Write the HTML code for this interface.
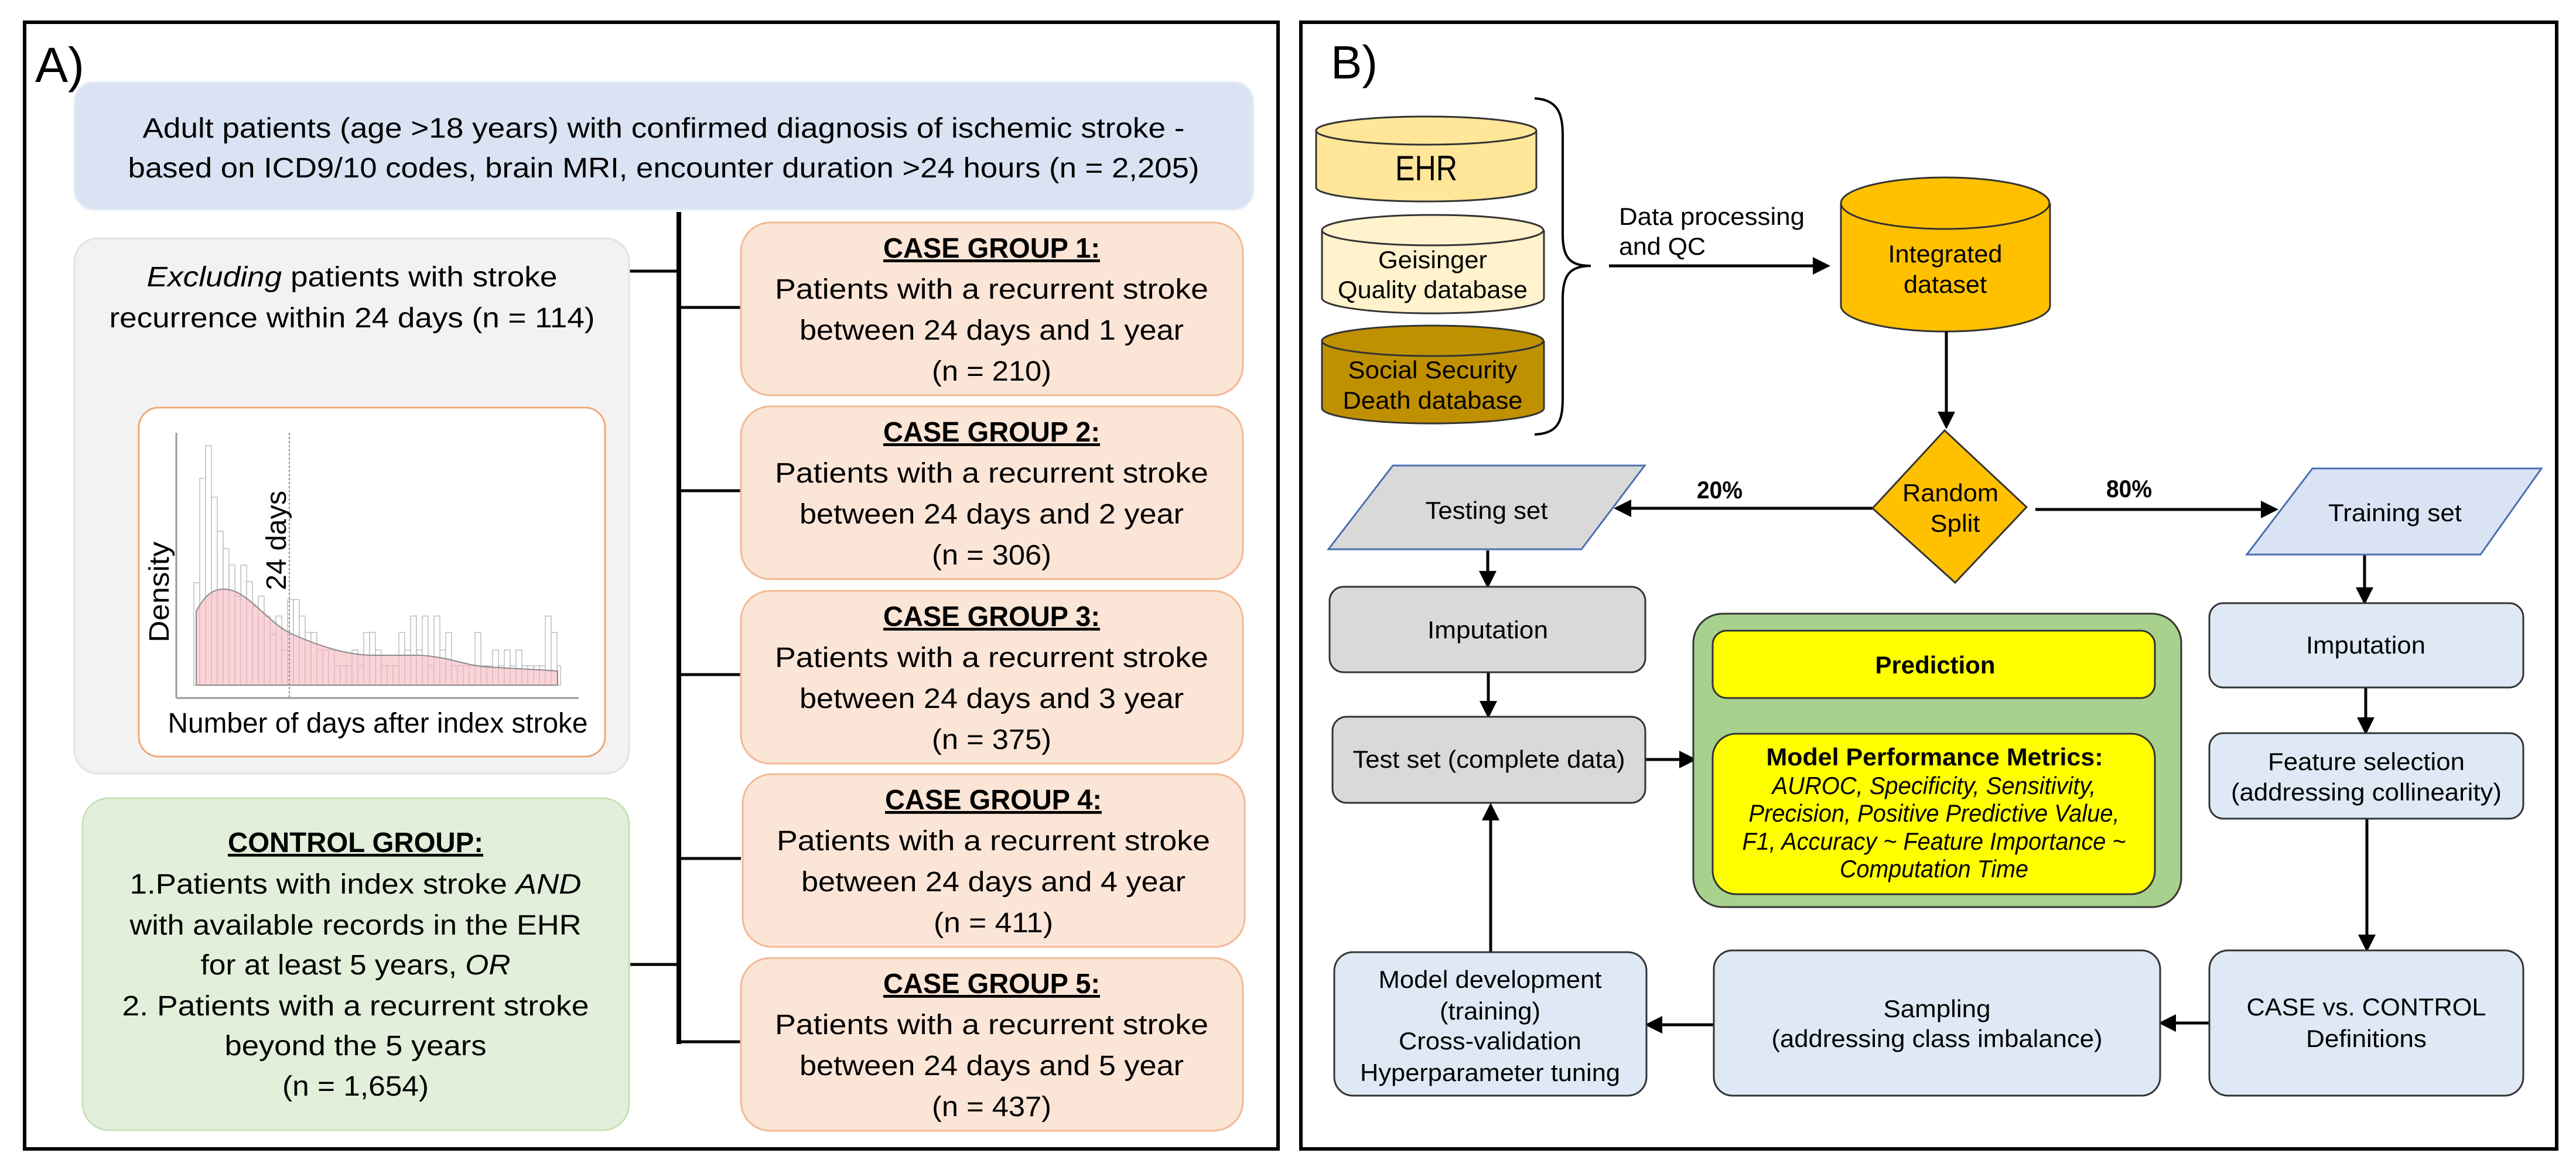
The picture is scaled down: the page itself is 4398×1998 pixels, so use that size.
<!DOCTYPE html>
<html><head><meta charset="utf-8"><style>
html,body{margin:0;padding:0;background:#fff}
svg{display:block}
.a{font-family:"Liberation Sans",sans-serif;fill:#000}
</style></head><body>
<svg width="4398" height="1998" viewBox="0 0 4398 1998" xmlns="http://www.w3.org/2000/svg">
<defs>
<marker id="ah" markerWidth="6" markerHeight="6" refX="5" refY="3" orient="auto" markerUnits="strokeWidth"><path d="M0,0 L6,3 L0,6 z" fill="#000"/></marker>
</defs>
<rect width="4398" height="1998" fill="#fff"/>
<!-- PANEL A -->
<rect x="42" y="38" width="2140" height="1924" fill="#fff" stroke="#000" stroke-width="6"/>
<text class="a" x="60" y="140" font-size="84">A)</text>
<rect x="127" y="140" width="2013" height="218" rx="34" fill="#dae3f3" stroke="#e6edf8" stroke-width="3"/>
<g class="a" font-size="48" text-anchor="middle">
<text x="1133" y="235" textLength="1779" lengthAdjust="spacingAndGlyphs">Adult patients (age &gt;18 years) with confirmed diagnosis of ischemic stroke -</text>
<text x="1133" y="303" textLength="1829" lengthAdjust="spacingAndGlyphs">based on ICD9/10 codes, brain MRI, encounter duration &gt;24 hours (n = 2,205)</text>
</g>
<!-- trunk -->
<line x1="1159" y1="362" x2="1159" y2="1783" stroke="#000" stroke-width="8"/>
<g stroke="#000" stroke-width="5">
<line x1="1069" y1="463" x2="1159" y2="463"/>
<line x1="1076" y1="1647" x2="1159" y2="1647"/>
<line x1="1159" y1="525" x2="1265" y2="525"/>
<line x1="1159" y1="838" x2="1265" y2="838"/>
<line x1="1159" y1="1152" x2="1265" y2="1152"/>
<line x1="1159" y1="1466" x2="1265" y2="1466"/>
<line x1="1159" y1="1779" x2="1265" y2="1779"/>
</g>
<!-- gray box -->
<rect x="127" y="407" width="947" height="914" rx="40" fill="#f2f2f2" stroke="#e3e3e3" stroke-width="3"/>
<g class="a" font-size="48" text-anchor="middle">
<text x="601" y="489" textLength="701" lengthAdjust="spacingAndGlyphs"><tspan font-style="italic">Excluding</tspan> patients with stroke</text>
<text x="601" y="559" textLength="829" lengthAdjust="spacingAndGlyphs">recurrence within 24 days (n = 114)</text>
</g>
<!-- chart -->
<rect x="237" y="696" width="796" height="596" rx="34" fill="#fff" stroke="#f0a878" stroke-width="3"/>
<g fill="#fff" stroke="#bdbdbd" stroke-width="1.5">
<rect x="331" y="995" width="10" height="175"/><rect x="341" y="817" width="10" height="353"/><rect x="351" y="761" width="10" height="409"/><rect x="361" y="849" width="10" height="321"/><rect x="371" y="907" width="10" height="263"/><rect x="381" y="937" width="10" height="233"/><rect x="391" y="965" width="10" height="205"/><rect x="401" y="1018" width="10" height="152"/><rect x="411" y="965" width="10" height="205"/><rect x="421" y="993" width="10" height="177"/><rect x="431" y="1036" width="10" height="134"/><rect x="441" y="1018" width="10" height="152"/><rect x="451" y="1052" width="10" height="118"/><rect x="461" y="1083" width="10" height="87"/><rect x="471" y="1052" width="10" height="118"/><rect x="481" y="1110" width="10" height="60"/><rect x="491" y="1024" width="10" height="146"/><rect x="501" y="1024" width="10" height="146"/><rect x="511" y="1052" width="10" height="118"/><rect x="521" y="1080" width="10" height="90"/><rect x="531" y="1080" width="10" height="90"/><rect x="541" y="1110" width="10" height="60"/><rect x="551" y="1110" width="10" height="60"/><rect x="561" y="1110" width="10" height="60"/><rect x="571" y="1137" width="10" height="33"/><rect x="581" y="1137" width="10" height="33"/><rect x="591" y="1137" width="10" height="33"/><rect x="601" y="1110" width="10" height="60"/><rect x="611" y="1137" width="10" height="33"/><rect x="621" y="1080" width="10" height="90"/><rect x="631" y="1080" width="10" height="90"/><rect x="641" y="1110" width="10" height="60"/><rect x="651" y="1137" width="10" height="33"/><rect x="661" y="1137" width="10" height="33"/><rect x="671" y="1137" width="10" height="33"/><rect x="681" y="1080" width="10" height="90"/><rect x="691" y="1110" width="10" height="60"/><rect x="701" y="1052" width="10" height="118"/><rect x="711" y="1110" width="10" height="60"/><rect x="721" y="1052" width="10" height="118"/><rect x="731" y="1137" width="10" height="33"/><rect x="741" y="1052" width="10" height="118"/><rect x="751" y="1110" width="10" height="60"/><rect x="761" y="1080" width="10" height="90"/><rect x="771" y="1137" width="10" height="33"/><rect x="781" y="1137" width="10" height="33"/><rect x="791" y="1137" width="10" height="33"/><rect x="801" y="1137" width="10" height="33"/><rect x="811" y="1080" width="10" height="90"/><rect x="821" y="1137" width="10" height="33"/><rect x="831" y="1137" width="10" height="33"/><rect x="841" y="1110" width="10" height="60"/><rect x="851" y="1137" width="10" height="33"/><rect x="861" y="1110" width="10" height="60"/><rect x="871" y="1137" width="10" height="33"/><rect x="881" y="1110" width="10" height="60"/><rect x="891" y="1137" width="10" height="33"/><rect x="901" y="1137" width="10" height="33"/><rect x="911" y="1137" width="10" height="33"/><rect x="921" y="1137" width="10" height="33"/><rect x="931" y="1052" width="10" height="118"/><rect x="941" y="1080" width="10" height="90"/><rect x="951" y="1137" width="6" height="33"/>
</g>
<path d="M335,1170 L335,1044 C350,1015 365,1006 382,1006 C420,1006 450,1055 491,1079 C520,1093 545,1102 570,1109 C600,1117 620,1119 638,1119 L716,1119 C760,1121 790,1134 821,1138 C870,1142 920,1143 952,1146 L952,1170 Z" fill="#f7b6bf" fill-opacity="0.6" stroke="#8a8a8a" stroke-width="2"/>
<line x1="301" y1="739" x2="301" y2="1192" stroke="#999" stroke-width="3"/>
<line x1="301" y1="1192" x2="988" y2="1192" stroke="#999" stroke-width="3"/>
<line x1="494" y1="739" x2="494" y2="1192" stroke="#8888bb" stroke-width="2" stroke-dasharray="4,3"/>
<g class="a" font-size="48">
<text transform="translate(488,923) rotate(-90)" text-anchor="middle" textLength="170" lengthAdjust="spacingAndGlyphs">24 days</text>
<text transform="translate(288,1011) rotate(-90)" text-anchor="middle" textLength="172" lengthAdjust="spacingAndGlyphs">Density</text>
<text x="645" y="1251" text-anchor="middle" textLength="717" lengthAdjust="spacingAndGlyphs">Number of days after index stroke</text>
</g>
<!-- control -->
<rect x="141" y="1363" width="933" height="567" rx="45" fill="#e2efda" stroke="#c9e0b8" stroke-width="3"/>
<g class="a" font-size="48" text-anchor="middle">
<text x="607" y="1455" font-weight="bold" text-decoration="underline" textLength="436" lengthAdjust="spacingAndGlyphs">CONTROL GROUP:</text>
<text x="607" y="1526" textLength="771" lengthAdjust="spacingAndGlyphs">1.Patients with index stroke <tspan font-style="italic">AND</tspan></text>
<text x="607" y="1596" textLength="771" lengthAdjust="spacingAndGlyphs">with available records in the EHR</text>
<text x="607" y="1664" textLength="529" lengthAdjust="spacingAndGlyphs">for at least 5 years, <tspan font-style="italic">OR</tspan></text>
<text x="607" y="1734" textLength="797" lengthAdjust="spacingAndGlyphs">2. Patients with a recurrent stroke</text>
<text x="607" y="1802" textLength="447" lengthAdjust="spacingAndGlyphs">beyond the 5 years</text>
<text x="607" y="1871" textLength="250" lengthAdjust="spacingAndGlyphs">(n = 1,654)</text>
</g>
<!-- case boxes -->
<g fill="#fbe5d6" stroke="#f4b894" stroke-width="3">
<rect x="1265" y="380" width="857" height="295" rx="50"/>
<rect x="1265" y="694" width="857" height="295" rx="50"/>
<rect x="1265" y="1009" width="857" height="295" rx="50"/>
<rect x="1268" y="1322" width="857" height="295" rx="50"/>
<rect x="1265" y="1636" width="857" height="295" rx="50"/>
</g>
<g class="a" font-size="48" text-anchor="middle">
<text x="1693" y="440" font-weight="bold" text-decoration="underline" textLength="370" lengthAdjust="spacingAndGlyphs">CASE GROUP 1:</text>
<text x="1693" y="510" textLength="740" lengthAdjust="spacingAndGlyphs">Patients with a recurrent stroke</text>
<text x="1693" y="580" textLength="656" lengthAdjust="spacingAndGlyphs">between 24 days and 1 year</text>
<text x="1693" y="650" textLength="204" lengthAdjust="spacingAndGlyphs">(n = 210)</text>
<text x="1693" y="754" font-weight="bold" text-decoration="underline" textLength="370" lengthAdjust="spacingAndGlyphs">CASE GROUP 2:</text>
<text x="1693" y="824" textLength="740" lengthAdjust="spacingAndGlyphs">Patients with a recurrent stroke</text>
<text x="1693" y="894" textLength="656" lengthAdjust="spacingAndGlyphs">between 24 days and 2 year</text>
<text x="1693" y="964" textLength="204" lengthAdjust="spacingAndGlyphs">(n = 306)</text>
<text x="1693" y="1069" font-weight="bold" text-decoration="underline" textLength="370" lengthAdjust="spacingAndGlyphs">CASE GROUP 3:</text>
<text x="1693" y="1139" textLength="740" lengthAdjust="spacingAndGlyphs">Patients with a recurrent stroke</text>
<text x="1693" y="1209" textLength="656" lengthAdjust="spacingAndGlyphs">between 24 days and 3 year</text>
<text x="1693" y="1279" textLength="204" lengthAdjust="spacingAndGlyphs">(n = 375)</text>
<text x="1696" y="1382" font-weight="bold" text-decoration="underline" textLength="370" lengthAdjust="spacingAndGlyphs">CASE GROUP 4:</text>
<text x="1696" y="1452" textLength="740" lengthAdjust="spacingAndGlyphs">Patients with a recurrent stroke</text>
<text x="1696" y="1522" textLength="656" lengthAdjust="spacingAndGlyphs">between 24 days and 4 year</text>
<text x="1696" y="1592" textLength="204" lengthAdjust="spacingAndGlyphs">(n = 411)</text>
<text x="1693" y="1696" font-weight="bold" text-decoration="underline" textLength="370" lengthAdjust="spacingAndGlyphs">CASE GROUP 5:</text>
<text x="1693" y="1766" textLength="740" lengthAdjust="spacingAndGlyphs">Patients with a recurrent stroke</text>
<text x="1693" y="1836" textLength="656" lengthAdjust="spacingAndGlyphs">between 24 days and 5 year</text>
<text x="1693" y="1906" textLength="204" lengthAdjust="spacingAndGlyphs">(n = 437)</text>
</g>

<!-- PANEL B -->
<rect x="2221" y="38" width="2144" height="1924" fill="#fff" stroke="#000" stroke-width="6"/>
<text class="a" x="2272" y="134" font-size="80">B)</text>
<!-- cylinders -->
<g stroke="#333" stroke-width="3">
<path d="M2247,223 L2247,320 A188,24 0 0 0 2623,320 L2623,223" fill="#ffe699"/>
<ellipse cx="2435" cy="223" rx="188" ry="24" fill="#ffe699"/>
<path d="M2257,393 L2257,509 A189,26 0 0 0 2636,509 L2636,393" fill="#fff2cc"/>
<ellipse cx="2446" cy="393" rx="189" ry="26" fill="#fff2cc"/>
<path d="M2257,582 L2257,697 A189,26 0 0 0 2636,697 L2636,582" fill="#bf9000"/>
<ellipse cx="2446" cy="582" rx="189" ry="26" fill="#bf9000"/>
<path d="M3143,347 L3143,522 A178,44 0 0 0 3500,522 L3500,347" fill="#ffc000"/>
<ellipse cx="3321" cy="347" rx="178" ry="44" fill="#ffc000"/>
</g>
<g class="a" text-anchor="middle" font-size="42">
<text x="2435" y="308" font-size="60" textLength="106" lengthAdjust="spacingAndGlyphs">EHR</text>
<text x="2446" y="458" textLength="186" lengthAdjust="spacingAndGlyphs">Geisinger</text>
<text x="2446" y="509" textLength="324" lengthAdjust="spacingAndGlyphs">Quality database</text>
<text x="2446" y="646" textLength="289" lengthAdjust="spacingAndGlyphs">Social Security</text>
<text x="2446" y="698" textLength="307" lengthAdjust="spacingAndGlyphs">Death database</text>
<text x="3321" y="448" textLength="195" lengthAdjust="spacingAndGlyphs">Integrated</text>
<text x="3321" y="500" textLength="142" lengthAdjust="spacingAndGlyphs">dataset</text>
</g>
<!-- brace -->
<path d="M2620,168 C2660,170 2668,195 2668,230 L2668,400 C2668,440 2680,454 2716,454 C2680,454 2668,470 2668,510 L2668,680 C2668,720 2660,740 2620,742" fill="none" stroke="#000" stroke-width="4"/>
<g class="a" font-size="42">
<text x="2764" y="384" textLength="317" lengthAdjust="spacingAndGlyphs">Data processing</text>
<text x="2764" y="435" textLength="148" lengthAdjust="spacingAndGlyphs">and QC</text>
</g>
<g stroke="#000" stroke-width="5" fill="none" marker-end="url(#ah)">
<line x1="2747" y1="454" x2="3120" y2="454"/>
<line x1="3323" y1="566" x2="3323" y2="728"/>
<line x1="3197" y1="868" x2="2760" y2="868"/>
<line x1="3475" y1="870" x2="3885" y2="870"/>
<line x1="2540" y1="940" x2="2540" y2="1000"/>
<line x1="2541" y1="1149" x2="2541" y2="1222"/>
<line x1="2809" y1="1297" x2="2892" y2="1297"/>
<line x1="3307" y1="1192" x2="3307" y2="1251"/>
<line x1="4037" y1="947" x2="4037" y2="1028"/>
<line x1="4039" y1="1174" x2="4039" y2="1250"/>
<line x1="4041" y1="1398" x2="4041" y2="1621"/>
<line x1="3772" y1="1747" x2="3690" y2="1747"/>
<line x1="2926" y1="1750" x2="2813" y2="1750"/>
<line x1="2545" y1="1626" x2="2545" y2="1376"/>
</g>
<!-- diamond -->
<polygon points="3320,735 3460,866 3338,995 3197,868" fill="#ffc000" stroke="#333" stroke-width="3"/>
<g class="a" font-size="42" text-anchor="middle">
<text x="3330" y="856" textLength="164" lengthAdjust="spacingAndGlyphs">Random</text>
<text x="3338" y="908" textLength="85" lengthAdjust="spacingAndGlyphs">Split</text>
<text x="2936" y="851" font-weight="bold" textLength="78" lengthAdjust="spacingAndGlyphs">20%</text>
<text x="3635" y="849" font-weight="bold" textLength="78" lengthAdjust="spacingAndGlyphs">80%</text>
</g>
<!-- parallelograms -->
<polygon points="2378,795 2808,795 2700,938 2268,938" fill="#d9d9d9" stroke="#4a6fb0" stroke-width="3"/>
<polygon points="3948,800 4339,800 4235,947 3836,947" fill="#dae3f3" stroke="#4a6fb0" stroke-width="3"/>
<!-- boxes -->
<g stroke="#333" stroke-width="3">
<rect x="2270" y="1002" width="539" height="146" rx="24" fill="#d9d9d9"/>
<rect x="2275" y="1224" width="534" height="147" rx="24" fill="#d9d9d9"/>
<rect x="2891" y="1048" width="833" height="501" rx="50" fill="#a9d18e"/>
<rect x="2924" y="1077" width="755" height="115" rx="24" fill="#ffff00"/>
<rect x="2924" y="1253" width="755" height="274" rx="40" fill="#ffff00"/>
<rect x="3772" y="1030" width="536" height="144" rx="24" fill="#dee9f5"/>
<rect x="3772" y="1252" width="536" height="146" rx="24" fill="#dee9f5"/>
<rect x="3772" y="1623" width="536" height="248" rx="32" fill="#dee9f5"/>
<rect x="2926" y="1623" width="762" height="248" rx="32" fill="#dee9f5"/>
<rect x="2278" y="1626" width="533" height="245" rx="32" fill="#dee9f5"/>
</g>
<g class="a" font-size="42" text-anchor="middle">
<text x="2538" y="886" textLength="209" lengthAdjust="spacingAndGlyphs">Testing set</text>
<text x="4089" y="890" textLength="228" lengthAdjust="spacingAndGlyphs">Training set</text>
<text x="2540" y="1090" textLength="206" lengthAdjust="spacingAndGlyphs">Imputation</text>
<text x="2542" y="1311" textLength="465" lengthAdjust="spacingAndGlyphs">Test set (complete data)</text>
<text x="3304" y="1150" font-weight="bold" textLength="205" lengthAdjust="spacingAndGlyphs">Prediction</text>
<text x="3303" y="1307" font-weight="bold" textLength="575" lengthAdjust="spacingAndGlyphs">Model Performance Metrics:</text>
<g font-style="italic">
<text x="3302" y="1356" textLength="553" lengthAdjust="spacingAndGlyphs">AUROC, Specificity, Sensitivity,</text>
<text x="3302" y="1403" textLength="633" lengthAdjust="spacingAndGlyphs">Precision, Positive Predictive Value,</text>
<text x="3302" y="1451" textLength="655" lengthAdjust="spacingAndGlyphs">F1, Accuracy ~ Feature Importance ~</text>
<text x="3302" y="1498" textLength="322" lengthAdjust="spacingAndGlyphs">Computation Time</text>
</g>
<text x="4039" y="1116" textLength="204" lengthAdjust="spacingAndGlyphs">Imputation</text>
<text x="4040" y="1315" textLength="336" lengthAdjust="spacingAndGlyphs">Feature selection</text>
<text x="4040" y="1367" textLength="462" lengthAdjust="spacingAndGlyphs">(addressing collinearity)</text>
<text x="4040" y="1734" textLength="409" lengthAdjust="spacingAndGlyphs">CASE vs. CONTROL</text>
<text x="4040" y="1788" textLength="206" lengthAdjust="spacingAndGlyphs">Definitions</text>
<text x="3307" y="1737" textLength="183" lengthAdjust="spacingAndGlyphs">Sampling</text>
<text x="3307" y="1788" textLength="565" lengthAdjust="spacingAndGlyphs">(addressing class imbalance)</text>
<text x="2544" y="1687" textLength="381" lengthAdjust="spacingAndGlyphs">Model development</text>
<text x="2544" y="1741" textLength="172" lengthAdjust="spacingAndGlyphs">(training)</text>
<text x="2544" y="1792" textLength="312" lengthAdjust="spacingAndGlyphs">Cross-validation</text>
<text x="2544" y="1846" textLength="444" lengthAdjust="spacingAndGlyphs">Hyperparameter tuning</text>
</g>
</svg>
</body></html>
